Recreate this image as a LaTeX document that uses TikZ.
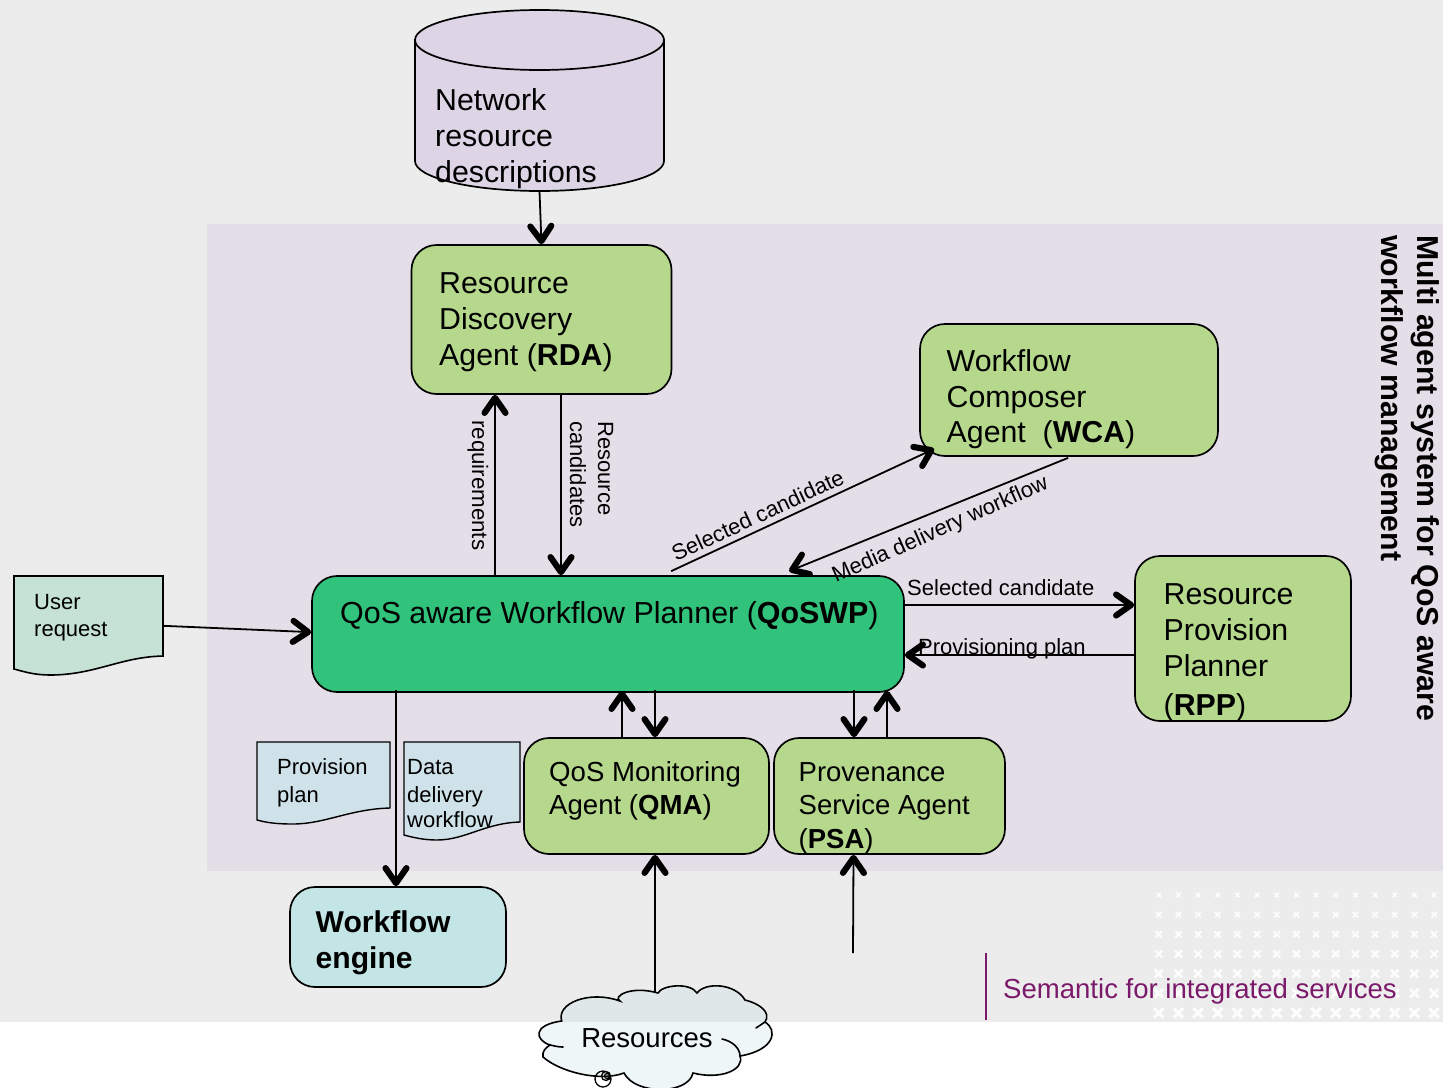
\documentclass[tikz,border=0pt]{standalone}
\usepackage{fontspec}
\setmainfont{Liberation Sans}
\usetikzlibrary{arrows.meta,calc}
\definecolor{pagegray}{HTML}{ECECEC}
\definecolor{panel}{HTML}{E3DEE8}
\definecolor{dbfill}{HTML}{DDD5E5}
\definecolor{agent}{HTML}{B6D88C}
\definecolor{planner}{HTML}{31C27C}
\definecolor{engine}{HTML}{C3E5E6}
\definecolor{userdoc}{HTML}{C5E2D5}
\definecolor{plandoc}{HTML}{D0E2E9}
\definecolor{brand}{HTML}{7B1A6B}
\definecolor{cloudc}{RGB}{193,220,228}
\newcommand{\fz}[2]{\fontsize{#1}{#2}\selectfont}
\tikzset{
  x=1pt,y=-1pt,
  boxn/.style={draw=black,line width=1.7pt,rounded corners=25pt,inner sep=0pt},
  lb/.style={inner sep=0pt,anchor=base west},
  docn/.style={draw=black,line width=1.6pt},
  ghost/.style={inner sep=0pt},
  tipped/.style={line width=1.8pt,-{Straight Barb[length=15pt,width=21pt,line width=0pt 3.4,round]}},
  cloudline/.style={draw=black,line width=1.6pt,line cap=round},
}
\begin{document}
\begin{tikzpicture}
\useasboundingbox (0,0) rectangle (1443,1087);
% backgrounds
\fill[pagegray] (0,0) rectangle (1443,1022);
\fill[panel] (207,224) rectangle (1443,870.5);
\foreach \r in {0,...,6}{
  \foreach \c in {0,...,14}{
    \pgfmathsetmacro{\px}{1158.7+19.67*\c}
    \pgfmathsetmacro{\py}{895+19.65*\r}
    \pgfmathsetmacro{\hs}{2.2+0.42*\r}
    \pgfmathsetmacro{\lw}{1.7+0.25*\r}
    \draw[white,opacity=.85,line width=\lw pt] (\px-\hs,\py-\hs) -- (\px+\hs,\py+\hs) (\px-\hs,\py+\hs) -- (\px+\hs,\py-\hs);
  }
}
% database
\path[draw=black,line width=1.7pt,fill=dbfill] (415,40) -- (415,161) .. controls (415,177.6) and (470.7,191) .. (539.5,191) .. controls (608.3,191) and (664,177.6) .. (664,161) -- (664,40) -- cycle;
\path[draw=black,line width=1.7pt,fill=dbfill] (539.5,40) ellipse[x radius=124.5,y radius=30];
\node[ghost,minimum width=249pt,minimum height=181pt] (db) at (539.5,100.5) {};
\node[lb,font=\fz{30.3}{36}] (dbT) at (435,110) {\vtop{\hbox{Network}\hbox{resource}\hbox{descriptions}}};
% agents
\node[boxn,fill=agent,minimum width=260pt,minimum height=149pt] (rda) at (541.5,319.5) {};
\node[lb,font=\fz{30.3}{36}] (rdaT) at (439,293) {\vtop{\hbox{Resource}\hbox{Discovery}\hbox{Agent (\textbf{RDA})}}};
\node[boxn,fill=agent,minimum width=298pt,minimum height=132pt] (wca) at (1069,390) {};
\node[lb,font=\fz{30.3}{35.6}] (wcaT) at (946.5,371.5) {\vtop{\hbox{Workflow}\hbox{Composer}\hbox{Agent\ \ (\textbf{WCA})}}};
\node[boxn,fill=planner,minimum width=592pt,minimum height=116pt] (qos) at (608,634) {};
\node[lb,font=\fz{30.4}{36}] (qosT) at (340,623) {QoS aware Workflow Planner (\textbf{QoSWP})};
\node[boxn,fill=agent,minimum width=216pt,minimum height=165pt] (rpp) at (1243,638.5) {};
\node[lb,font=\fz{30.3}{36}] (rppT) at (1163.5,604) {\vtop{\hbox{Resource}\hbox{Provision}\hbox{Planner}\vskip 3pt\hbox{(\textbf{RPP})}}};
\node[boxn,fill=agent,minimum width=245pt,minimum height=116pt] (qma) at (646.5,796) {};
\node[lb,font=\fz{27.6}{33.5}] (qmaT) at (549,781) {\vtop{\hbox{QoS Monitoring}\hbox{Agent (\textbf{QMA})}}};
\node[boxn,fill=agent,minimum width=231pt,minimum height=116pt] (psa) at (889.5,796) {};
\node[lb,font=\fz{27.5}{33.5}] (psaT) at (798.5,781) {\vtop{\hbox{Provenance}\hbox{Service Agent}\hbox{(\textbf{PSA})}}};
\node[boxn,fill=engine,minimum width=216pt,minimum height=100pt] (eng) at (398,937) {};
\node[lb,font=\fz{30.1}{36}] (engT) at (315.5,932) {\vtop{\hbox{\textbf{Workflow}}\hbox{\textbf{engine}}}};
% documents
\path[docn,fill=userdoc] (14,576) -- (163,576) -- (163,656) .. controls (120,657) and (95,675) .. (50,675) .. controls (35,675) and (25,672) .. (14,669) -- cycle;
\node[ghost,minimum width=149pt,minimum height=99pt] (usr) at (88.5,625.5) {};
\node[lb,font=\fz{22}{27.5}] (usrT) at (34,609) {\vtop{\hbox{User}\hbox{request}}};
\path[docn,line width=1.4pt,fill=plandoc] (257,742) -- (390,742) -- (390,808) .. controls (350,809) and (325,824) .. (293,824) .. controls (278,824) and (268,823) .. (257,820) -- cycle;
\node[ghost,minimum width=133pt,minimum height=82pt] (pp) at (323.5,783) {};
\node[lb,font=\fz{22}{28}] (ppT) at (277,774) {\vtop{\hbox{Provision}\hbox{plan}}};
\path[docn,line width=1.4pt,fill=plandoc] (404,742) -- (520,742) -- (520,822) .. controls (485,823) and (465,840) .. (437,840) .. controls (425,840) and (415,838) .. (404,835) -- cycle;
\node[ghost,minimum width=116pt,minimum height=98pt] (dd) at (462,791) {};
\node[lb,font=\fz{22}{26.5}] (ddT) at (407,774) {\vtop{\hbox{Data}\vskip 1.5pt\hbox{delivery}\vskip -1pt\hbox{workflow}}};
% cloud
\path[fill=cloudc,fill opacity=.26,cloudline]
  (561.7,1021) .. controls (556,1003) and (590,990) .. (620,1001)
  .. controls (612,997) and (630,985) .. (658,993)
  .. controls (662,985) and (690,982) .. (697,993)
  .. controls (705,982) and (735,983) .. (745,1000)
  .. controls (758,1003) and (772,1012) .. (765,1022)
  .. controls (778,1030) and (775,1050) .. (740,1056)
  .. controls (745,1070) and (720,1080) .. (693,1073)
  .. controls (688,1095) and (635,1095) .. (624,1073)
  .. controls (600,1082) and (560,1072) .. (543,1057)
  .. controls (542,1052) and (545,1048) .. (550,1045)
  .. controls (535,1040) and (532,1025) .. (561.7,1021) -- cycle;
\draw[cloudline] (765,1022) -- (756,1028);
\draw[cloudline] (722,1039) .. controls (732,1041) and (740,1048) .. (740,1056);
\draw[cloudline] (550,1045) .. controls (555,1046) and (558,1047) .. (563,1047);
\draw[black,line width=1.3pt] (603,1079) circle[radius=8] (606,1076) circle[radius=4.5] (607,1076) circle[radius=2.5];
\node[ghost,minimum width=230pt,minimum height=92pt,font=\fz{27.5}{33}] (res) at (647,1038) {Resources};
% connectors
\draw[tipped] (db.south) -- (rda.north);
\draw[tipped] (495,0 |- qos.north) -- (495,0 |- rda.south);
\draw[tipped] (561,0 |- rda.south) -- (561,0 |- qos.north);
\draw[tipped] ($(qos.north west)+(360,-4)$) -- ($(wca.south west)+(15,-8)$);
\draw[tipped] ($(wca.south west)+(149,1)$) -- ($(qos.north west)+(478,-4)$);
\draw[tipped] (qos.east |- 0,605) -- (rpp.west |- 0,605);
\draw[tipped] (rpp.west |- 0,655) -- (qos.east |- 0,655);
\draw[tipped] ($(usr.north east)+(0,50)$) -- ($(qos.north west)+(0,57)$);
\draw[tipped] ($(396,0 |- qos.south)+(0,-3)$) -- (396,0 |- eng.north);
\draw[tipped] (622,0 |- qma.north) -- ($(622,0 |- qos.south)+(0,-2)$);
\draw[tipped] ($(655,0 |- qos.south)+(0,-3)$) -- (655,0 |- qma.north);
\draw[tipped] ($(854,0 |- qos.south)+(0,-3)$) -- (854,0 |- psa.north);
\draw[tipped] (887,0 |- psa.north) -- ($(887,0 |- qos.south)+(0,-2)$);
\draw[tipped] (655,0 |- res.north) -- (655,0 |- qma.south);
\coordinate (psaIn) at (853,953);
\draw[tipped] (psaIn) -- (853.5,0 |- psa.south);
% connector labels
\node[lb,font=\fz{22.3}{27},rotate=-90] (lreq) at (472,420) {requirements};
\node[lb,font=\fz{22}{28},rotate=-90] (lres) at (598,421) {\vtop{\hbox{Resource}\hbox{candidates}}};
\node[lb,font=\fz{22}{27},rotate=25] (lsc1) at (676,562) {Selected candidate};
\node[lb,font=\fz{22}{27},rotate=24] (lmd) at (836,583) {Media delivery workflow};
\node[lb,font=\fz{22}{27}] (lsc2) at (907,595) {Selected candidate};
\node[lb,font=\fz{22}{27}] (lpr) at (918,654) {Provisioning plan};
% title and footer
\node[lb,font=\fz{30.25}{36},rotate=-90] (title) at (1417,235) {\vtop{\hbox{\textbf{Multi agent system for QoS aware}}\hbox{\textbf{workflow management}}}};
\coordinate (barT) at (986,953);
\coordinate (barB) at (986,1020);
\draw[brand,line width=1.5pt] (barT) -- (barB);
\node[lb,font=\fz{27.55}{34},text=brand] (foot) at (1003,998) {Semantic for integrated services};
\end{tikzpicture}
\end{document}
